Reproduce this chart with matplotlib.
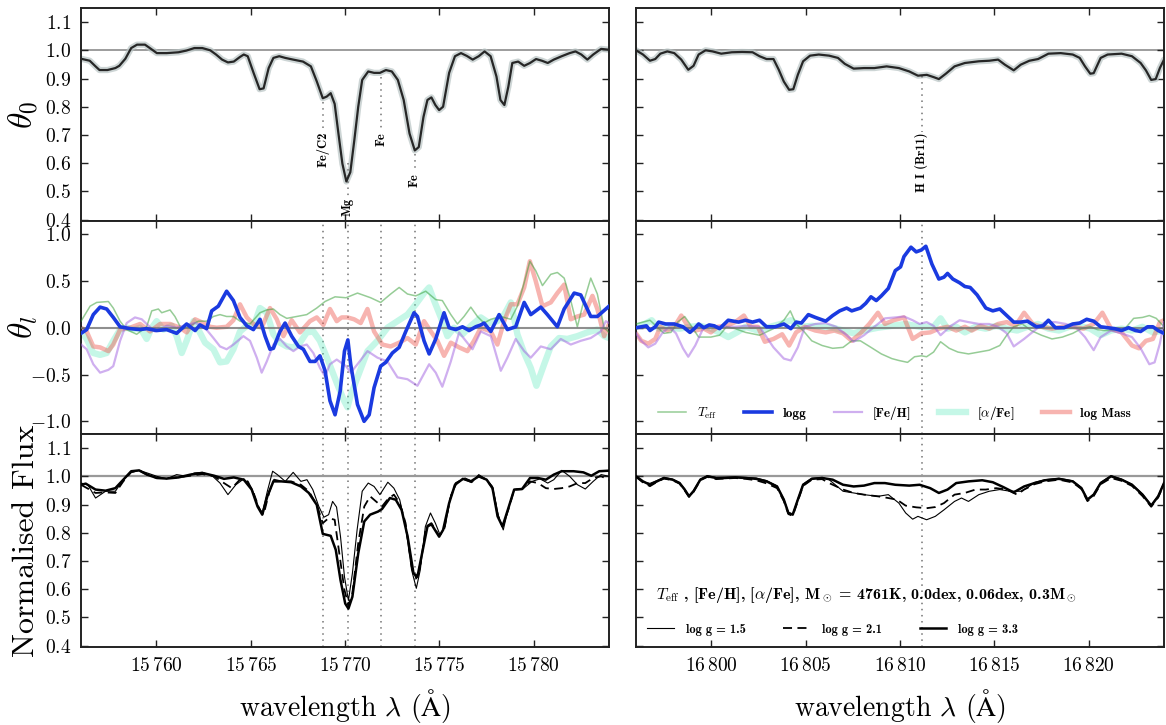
import numpy as np
import matplotlib
matplotlib.use("Agg")
import matplotlib.pyplot as plt
from matplotlib.ticker import FuncFormatter, MultipleLocator

plt.rcParams["font.family"] = ["cmr10", "DejaVu Serif"]
plt.rcParams["mathtext.fontset"] = "cm"
plt.rcParams["axes.formatter.use_mathtext"] = True

# wavelength windows (Angstrom); curve points are stored as (offset from start, value)
LEFT_START, LEFT_END = 15756.0, 15784.0
RIGHT_START, RIGHT_END = 16796.0, 16824.0

# ---------------- left window: 15756 - 15784 A ----------------
theta0_left = [
    (0.00, 0.970), (0.46, 0.963), (0.77, 0.943), (0.98, 0.930), (1.40, 0.930), (1.82, 0.937),
    (2.03, 0.945), (2.35, 0.970), (2.66, 1.008), (2.97, 1.020), (3.39, 1.020), (3.71, 1.005),
    (4.02, 0.990), (4.54, 0.990), (5.17, 0.993), (5.59, 0.999), (6.01, 1.008), (6.43, 1.008),
    (6.85, 1.000), (7.16, 0.985), (7.48, 0.967), (7.79, 0.957), (8.10, 0.960), (8.42, 0.976),
    (8.63, 0.985), (8.84, 0.979), (9.15, 0.920), (9.47, 0.862), (9.68, 0.865), (9.95, 0.937),
    (10.20, 0.973), (10.51, 0.979), (10.83, 0.973), (11.25, 0.967), (11.77, 0.960), (12.19, 0.943),
    (12.50, 0.890), (12.82, 0.830), (13.03, 0.836), (13.24, 0.848), (13.45, 0.810), (13.65, 0.705),
    (13.86, 0.598), (14.07, 0.535), (14.28, 0.568), (14.49, 0.680), (14.70, 0.800), (14.91, 0.895),
    (15.23, 0.925), (15.54, 0.920), (15.85, 0.920), (16.17, 0.930), (16.48, 0.925), (16.80, 0.895),
    (17.11, 0.824), (17.42, 0.705), (17.70, 0.645), (17.91, 0.657), (18.16, 0.764), (18.37, 0.824),
    (18.58, 0.833), (18.79, 0.806), (18.99, 0.788), (19.20, 0.800), (19.52, 0.920), (19.83, 0.979),
    (20.15, 0.990), (20.46, 0.980), (20.77, 0.967), (21.09, 0.979), (21.40, 0.996), (21.72, 0.979),
    (22.03, 0.907), (22.24, 0.824), (22.45, 0.806), (22.66, 0.871), (22.87, 0.955), (23.18, 0.960),
    (23.50, 0.945), (23.81, 0.955), (24.13, 0.969), (24.44, 0.963), (24.75, 0.955), (25.07, 0.967),
    (25.49, 0.979), (25.91, 0.990), (26.22, 0.996), (26.53, 0.985), (26.85, 0.967), (27.16, 0.985),
    (27.58, 1.005), (28.00, 1.002),
]

teff_left = [
    (0.00, 0.07), (0.48, 0.23), (0.83, 0.27), (1.45, 0.28), (1.71, 0.21), (2.07, 0.07), (2.42, -0.02),
    (2.95, -0.07), (3.48, 0.01), (3.75, 0.18), (4.10, 0.20), (4.28, 0.16), (4.72, 0.19), (4.98, 0.12),
    (5.34, -0.02), (5.78, 0.02), (6.22, 0.07), (6.66, 0.07), (7.02, 0.12), (7.37, 0.14), (7.72, 0.12),
    (8.08, 0.12), (8.43, 0.07), (8.96, 0.04), (9.49, 0.16), (9.85, 0.19), (10.20, 0.20), (10.55, 0.14),
    (10.91, 0.10), (11.44, 0.12), (11.97, 0.14), (12.50, 0.21), (12.94, 0.28), (13.47, 0.33), (14.05, 0.32),
    (14.66, 0.37), (15.36, 0.32), (15.89, 0.27), (16.42, 0.36), (16.87, 0.43), (17.31, 0.36), (17.75, 0.34),
    (18.28, 0.39), (18.81, 0.30), (19.16, 0.29), (19.61, 0.14), (19.96, 0.04), (20.31, 0.12), (20.67, 0.22),
    (21.02, 0.12), (21.37, 0.05), (21.73, 0.09), (22.26, 0.12), (22.79, 0.09), (23.14, 0.23), (23.50, 0.48),
    (23.80, 0.71), (24.11, 0.61), (24.47, 0.45), (24.91, 0.57), (25.26, 0.59), (25.62, 0.53), (25.97, 0.29),
    (26.32, 0.01), (26.59, 0.23), (27.03, 0.53), (27.38, 0.36), (27.74, 0.00), (28.00, -0.05),
]

logg_left = [
    (0.00, -0.06), (0.30, -0.02), (0.65, 0.14), (1.01, 0.22), (1.36, 0.20), (1.71, 0.11), (2.07, 0.01),
    (2.60, -0.01), (3.13, -0.02), (3.48, -0.01), (4.01, -0.03), (4.54, -0.02), (5.07, -0.06), (5.60, 0.04),
    (6.05, -0.03), (6.31, 0.03), (6.66, -0.01), (6.93, 0.18), (7.28, 0.23), (7.72, 0.39), (8.08, 0.29),
    (8.43, 0.11), (8.79, 0.02), (9.14, -0.02), (9.49, 0.09), (9.76, -0.09), (10.02, -0.23), (10.20, -0.22),
    (10.55, -0.04), (10.82, 0.05), (11.17, -0.09), (11.53, -0.20), (11.79, -0.23), (12.14, -0.36),
    (12.41, -0.36), (12.67, -0.30), (12.94, -0.46), (13.20, -0.78), (13.47, -0.93), (13.74, -0.68),
    (13.97, -0.25), (14.15, -0.13), (14.30, -0.39), (14.66, -0.82), (15.01, -1.00), (15.28, -0.93),
    (15.54, -0.64), (15.89, -0.41), (16.16, -0.37), (16.51, -0.27), (16.87, -0.21), (17.22, -0.04),
    (17.66, 0.16), (17.84, 0.12), (18.19, -0.14), (18.46, -0.28), (18.81, -0.12), (19.25, 0.16),
    (19.52, 0.00), (19.87, -0.02), (20.23, 0.01), (20.58, -0.03), (20.93, 0.01), (21.20, 0.03),
    (21.37, 0.05), (21.73, -0.04), (22.17, 0.14), (22.61, -0.02), (23.05, 0.01), (23.50, 0.27),
    (23.85, 0.14), (24.38, 0.22), (24.73, 0.14), (25.26, 0.01), (25.62, 0.20), (26.15, 0.37),
    (26.50, 0.35), (27.03, 0.12), (27.38, 0.12), (28.00, 0.23),
]

feh_left = [
    (0.00, -0.18), (0.30, -0.23), (0.65, -0.39), (1.01, -0.48), (1.45, -0.45), (1.71, -0.41), (2.07, -0.14),
    (2.42, 0.05), (2.86, 0.11), (3.22, 0.09), (3.48, 0.04), (3.92, -0.04), (4.54, 0.02), (5.07, 0.00),
    (5.60, 0.03), (6.05, 0.05), (6.49, 0.02), (7.02, -0.11), (7.37, -0.20), (7.72, -0.23), (8.08, -0.18),
    (8.61, -0.09), (8.96, -0.14), (9.32, -0.32), (9.58, -0.48), (9.85, -0.36), (10.20, -0.18), (10.55, -0.12),
    (10.91, -0.20), (11.26, -0.25), (11.61, -0.20), (11.97, -0.18), (12.32, -0.27), (12.67, -0.43),
    (12.94, -0.52), (13.20, -0.39), (13.56, -0.34), (14.05, -0.41), (14.30, -0.48), (14.66, -0.39),
    (15.19, -0.25), (15.72, -0.32), (16.25, -0.36), (16.78, -0.53), (17.31, -0.55), (17.84, -0.62),
    (18.46, -0.39), (18.81, -0.48), (19.16, -0.63), (19.61, -0.36), (20.05, -0.05), (20.40, -0.14),
    (20.76, -0.23), (21.20, -0.04), (21.73, -0.09), (22.26, -0.46), (22.61, -0.32), (23.05, -0.12),
    (23.50, -0.25), (23.85, -0.32), (24.38, -0.20), (24.91, -0.23), (25.44, -0.12), (25.97, -0.18),
    (26.50, -0.14), (27.03, -0.11), (27.56, -0.04), (27.83, 0.07), (28.00, 0.05),
]

alpha_left = [
    (0.00, -0.04), (0.30, -0.12), (0.65, -0.27), (1.01, -0.29), (1.36, -0.27), (1.71, -0.14), (2.07, -0.02),
    (2.42, 0.00), (2.78, -0.02), (3.13, 0.00), (3.48, -0.12), (3.75, 0.00), (4.01, 0.07), (4.37, -0.02),
    (4.81, 0.02), (5.07, -0.09), (5.34, -0.27), (5.60, -0.14), (5.96, 0.07), (6.22, -0.02), (6.58, -0.16),
    (7.02, -0.23), (7.37, -0.37), (7.72, -0.36), (8.08, -0.23), (8.43, -0.04), (8.79, 0.02), (9.14, 0.01),
    (9.49, 0.21), (9.85, 0.16), (10.20, -0.07), (10.55, -0.16), (10.91, -0.20), (11.26, -0.21),
    (11.61, -0.16), (11.97, -0.05), (12.32, -0.04), (12.67, -0.14), (13.12, -0.36), (13.56, -0.59),
    (13.95, -0.78), (14.13, -0.85), (14.30, -0.72), (14.66, -0.53), (15.19, -0.25), (15.72, -0.14),
    (16.25, 0.00), (16.78, 0.07), (17.31, 0.14), (17.75, 0.25), (18.19, 0.37), (18.46, 0.43), (18.72, 0.29),
    (19.08, 0.11), (19.43, -0.09), (19.78, 0.00), (20.23, -0.07), (20.67, 0.02), (21.20, 0.11),
    (21.64, 0.05), (22.08, 0.07), (22.44, 0.14), (22.79, 0.27), (23.14, -0.07), (23.50, -0.27),
    (23.85, -0.43), (24.15, -0.62), (24.56, -0.39), (24.91, -0.20), (25.35, -0.11), (25.79, -0.12),
    (26.32, -0.09), (26.85, -0.05), (27.38, -0.02), (27.74, -0.09), (28.00, -0.11),
]

mass_left = [
    (0.00, 0.00), (0.30, -0.04), (0.65, -0.20), (1.01, -0.21), (1.45, -0.25), (1.71, -0.18), (2.07, -0.02),
    (2.60, 0.00), (3.13, 0.04), (3.66, -0.04), (4.19, 0.04), (4.72, 0.04), (5.25, 0.00), (5.60, -0.05),
    (6.05, 0.09), (6.49, 0.05), (6.84, 0.01), (7.19, 0.00), (7.72, 0.01), (8.08, 0.08), (8.43, 0.25),
    (8.79, 0.11), (9.14, 0.04), (9.58, 0.00), (10.02, 0.21), (10.38, 0.09), (10.73, -0.09), (11.17, 0.08),
    (11.61, -0.05), (12.14, 0.07), (12.50, 0.11), (12.85, 0.03), (13.20, 0.20), (13.56, 0.07),
    (13.82, 0.11), (14.13, 0.11), (14.48, 0.09), (14.83, 0.05), (15.19, 0.20), (15.54, -0.04),
    (15.98, -0.18), (16.42, -0.20), (16.87, -0.16), (17.31, -0.11), (17.75, -0.18), (18.19, 0.07),
    (18.55, -0.04), (18.90, -0.14), (19.25, -0.30), (19.61, -0.16), (20.05, -0.21), (20.49, -0.25),
    (20.84, -0.14), (21.20, 0.00), (21.73, -0.04), (22.08, -0.18), (22.44, 0.07), (22.79, 0.25),
    (23.14, 0.25), (23.50, 0.43), (23.80, 0.71), (24.11, 0.50), (24.47, 0.23), (24.91, 0.27),
    (25.26, 0.37), (25.62, 0.46), (25.97, 0.09), (26.32, 0.12), (26.68, 0.14), (27.12, 0.34),
    (27.38, 0.20), (27.74, -0.09), (28.00, 0.04),
]

flux_g15_left = [
    (0.00, 0.976), (0.36, 0.970), (0.77, 0.923), (1.30, 0.947), (1.82, 0.947), (2.24, 0.988), (2.66, 1.014),
    (3.08, 1.021), (3.50, 1.012), (4.02, 1.000), (4.54, 0.991), (5.07, 1.006), (5.59, 1.000), (6.01, 1.012),
    (6.43, 1.014), (6.95, 1.002), (7.37, 0.976), (7.79, 0.935), (8.21, 0.970), (8.63, 0.991), (9.05, 0.958),
    (9.36, 0.899), (9.61, 0.870), (9.88, 0.947), (10.16, 1.018), (10.41, 1.006), (10.83, 0.982),
    (11.25, 1.014), (11.66, 0.982), (11.98, 0.988), (12.29, 0.953), (12.61, 0.893), (12.88, 0.855),
    (13.13, 0.864), (13.34, 0.911), (13.55, 0.891), (13.76, 0.786), (13.97, 0.644), (14.18, 0.560),
    (14.39, 0.656), (14.64, 0.810), (14.91, 0.947), (15.23, 0.976), (15.54, 0.964), (15.85, 0.935),
    (16.27, 0.979), (16.59, 0.958), (16.90, 0.917), (17.21, 0.822), (17.53, 0.668), (17.78, 0.603),
    (17.99, 0.668), (18.26, 0.822), (18.53, 0.870), (18.79, 0.834), (19.04, 0.792), (19.31, 0.822),
    (19.62, 0.935), (19.94, 0.976), (20.36, 0.994), (20.77, 0.982), (21.09, 1.006), (21.51, 0.988),
    (21.82, 0.964), (22.14, 0.858), (22.39, 0.810), (22.66, 0.887), (22.97, 0.953), (23.39, 0.953),
    (23.92, 0.982), (24.34, 0.991), (24.75, 0.976), (25.07, 0.988), (25.49, 1.021), (25.91, 1.000),
    (26.33, 0.970), (26.74, 0.955), (27.16, 0.982), (27.58, 1.006), (28.00, 1.000),
]

flux_g21_left = [
    (0.00, 0.970), (0.77, 0.941), (1.30, 0.943), (1.82, 0.941), (2.24, 0.982), (2.66, 1.015), (3.08, 1.021),
    (3.50, 1.006), (4.02, 0.994), (4.54, 0.994), (5.17, 0.996), (5.80, 1.002), (6.43, 1.008), (7.06, 1.000),
    (7.58, 0.976), (8.00, 0.958), (8.42, 0.988), (8.84, 0.982), (9.15, 0.941), (9.47, 0.882), (9.68, 0.864),
    (9.99, 0.947), (10.24, 0.988), (10.62, 0.982), (11.14, 0.982), (11.66, 0.970), (12.08, 0.947),
    (12.50, 0.899), (12.82, 0.834), (13.13, 0.852), (13.45, 0.846), (13.72, 0.715), (13.97, 0.597),
    (14.18, 0.543), (14.39, 0.585), (14.70, 0.763), (15.02, 0.893), (15.33, 0.929), (15.64, 0.911),
    (15.96, 0.893), (16.27, 0.919), (16.59, 0.935), (16.90, 0.905), (17.21, 0.834), (17.53, 0.680),
    (17.78, 0.638), (18.01, 0.692), (18.30, 0.822), (18.58, 0.834), (18.99, 0.789), (19.25, 0.810),
    (19.56, 0.917), (19.87, 0.976), (20.29, 0.991), (20.71, 0.979), (21.09, 1.000), (21.51, 0.988),
    (21.82, 0.958), (22.09, 0.864), (22.35, 0.822), (22.66, 0.882), (22.97, 0.953), (23.39, 0.955),
    (23.81, 0.982), (24.23, 0.976), (24.65, 0.958), (25.07, 0.955), (25.49, 0.958), (25.91, 0.964),
    (26.33, 0.976), (26.74, 0.976), (27.16, 0.994), (27.58, 1.000), (28.00, 0.988),
]

flux_g33_left = [
    (0.00, 0.970), (0.25, 0.974), (0.77, 0.953), (1.30, 0.949), (1.82, 0.958), (2.24, 0.988), (2.66, 1.018),
    (3.08, 1.021), (3.50, 1.006), (4.02, 0.994), (4.54, 0.992), (5.17, 0.996), (5.80, 1.006), (6.43, 1.012),
    (7.06, 1.002), (7.58, 0.991), (8.10, 0.996), (8.63, 0.988), (9.05, 0.953), (9.36, 0.893), (9.61, 0.864),
    (9.88, 0.929), (10.20, 0.982), (10.62, 0.982), (11.14, 0.979), (11.66, 0.964), (12.08, 0.941),
    (12.50, 0.899), (12.82, 0.796), (13.24, 0.789), (13.51, 0.739), (13.76, 0.632), (14.01, 0.549),
    (14.18, 0.531), (14.39, 0.573), (14.70, 0.727), (15.02, 0.840), (15.33, 0.864), (15.75, 0.875),
    (15.96, 0.884), (16.38, 0.923), (16.69, 0.917), (17.00, 0.881), (17.32, 0.786), (17.63, 0.656),
    (17.84, 0.644), (18.05, 0.715), (18.37, 0.822), (18.58, 0.830), (18.99, 0.786), (19.20, 0.810),
    (19.52, 0.905), (19.83, 0.970), (20.25, 0.991), (20.67, 0.982), (21.09, 1.000), (21.51, 0.988),
    (21.82, 0.958), (22.09, 0.858), (22.35, 0.822), (22.66, 0.887), (22.97, 0.953), (23.39, 0.955),
    (23.81, 0.994), (24.23, 0.994), (24.65, 0.988), (25.07, 1.006), (25.49, 1.018), (26.12, 1.018),
    (26.64, 1.014), (27.06, 1.002), (27.48, 1.018), (28.00, 1.020),
]

# ---------------- right window: 16796 - 16824 A ----------------
theta0_right = [
    (0.00, 1.000), (0.37, 0.985), (0.74, 0.963), (1.02, 0.969), (1.29, 0.988), (1.66, 0.996), (2.03, 0.990),
    (2.40, 0.967), (2.77, 0.931), (3.05, 0.945), (3.32, 0.985), (3.69, 1.000), (4.06, 0.996), (4.52, 0.988),
    (5.08, 0.993), (5.63, 0.994), (6.18, 0.993), (6.55, 0.979), (6.92, 0.969), (7.29, 0.969), (7.57, 0.931),
    (7.84, 0.889), (8.12, 0.860), (8.34, 0.862), (8.58, 0.913), (8.86, 0.961), (9.23, 0.981), (9.69, 0.985),
    (10.24, 0.981), (10.71, 0.973), (11.07, 0.952), (11.54, 0.935), (12.09, 0.937), (12.64, 0.937),
    (13.29, 0.943), (13.94, 0.937), (14.49, 0.925), (14.95, 0.910), (15.42, 0.913), (15.78, 0.905),
    (16.06, 0.898), (16.43, 0.917), (16.89, 0.943), (17.44, 0.955), (18.18, 0.961), (18.73, 0.963),
    (19.20, 0.967), (19.56, 0.949), (20.03, 0.929), (20.40, 0.949), (20.86, 0.963), (21.32, 0.969),
    (21.87, 0.988), (22.52, 0.990), (23.16, 0.985), (23.53, 0.973), (23.81, 0.943), (24.09, 0.917),
    (24.27, 0.919), (24.64, 0.973), (25.01, 0.985), (25.75, 0.988), (26.30, 0.979), (26.76, 0.955),
    (27.04, 0.929), (27.32, 0.895), (27.56, 0.898), (27.78, 0.937), (28.00, 0.967),
]

teff_right = [
    (0.00, 0.04), (0.37, 0.06), (0.74, 0.08), (1.11, 0.01), (1.48, -0.06), (1.85, -0.05), (2.21, 0.06),
    (2.58, 0.12), (2.86, 0.04), (3.32, -0.10), (3.97, -0.10), (4.43, -0.08), (4.80, 0.01), (5.26, -0.01),
    (5.81, -0.05), (6.55, -0.08), (7.29, -0.01), (7.84, 0.08), (8.18, 0.18), (8.49, 0.04), (8.86, -0.03),
    (9.32, -0.14), (9.87, -0.19), (10.43, -0.22), (10.98, -0.21), (11.44, -0.14), (11.90, -0.14),
    (12.46, -0.21), (13.01, -0.28), (13.57, -0.33), (13.94, -0.35), (14.40, -0.37), (14.77, -0.31),
    (15.13, -0.30), (15.41, -0.31), (15.78, -0.26), (16.15, -0.15), (16.61, -0.22), (17.07, -0.26),
    (17.63, -0.28), (18.18, -0.26), (18.73, -0.24), (19.29, -0.19), (19.66, -0.08), (20.03, 0.01),
    (20.49, 0.04), (20.95, -0.03), (21.50, -0.08), (22.06, -0.12), (22.61, -0.10), (23.16, -0.06),
    (23.62, -0.01), (24.09, 0.01), (24.46, -0.02), (24.82, -0.03), (25.38, -0.03), (25.93, -0.01),
    (26.39, 0.10), (26.86, 0.11), (27.22, 0.13), (27.59, 0.10), (28.00, 0.01),
]

logg_right = [
    (0.00, 0.00), (0.28, 0.01), (0.55, 0.02), (0.74, -0.03), (1.02, 0.01), (1.20, 0.06), (1.57, 0.04),
    (2.03, 0.04), (2.49, 0.01), (2.86, -0.05), (3.14, 0.00), (3.32, 0.04), (3.60, 0.00), (3.88, 0.03),
    (4.15, 0.02), (4.43, -0.01), (4.89, 0.08), (5.44, 0.06), (5.81, 0.08), (6.18, 0.06), (6.55, 0.08),
    (6.92, 0.01), (7.38, 0.01), (7.84, 0.04), (8.21, -0.01), (8.49, 0.06), (8.77, 0.05), (9.14, 0.14),
    (9.51, 0.11), (10.06, 0.07), (10.43, 0.13), (10.80, 0.18), (11.17, 0.21), (11.44, 0.18), (11.90, 0.21),
    (12.18, 0.26), (12.46, 0.33), (12.74, 0.29), (13.01, 0.34), (13.38, 0.42), (13.75, 0.61), (14.03, 0.65),
    (14.21, 0.76), (14.58, 0.86), (14.86, 0.81), (15.13, 0.83), (15.37, 0.87), (15.69, 0.68), (16.06, 0.52),
    (16.33, 0.54), (16.52, 0.58), (16.80, 0.52), (17.16, 0.48), (17.44, 0.44), (17.72, 0.43), (18.09, 0.35),
    (18.55, 0.21), (18.92, 0.18), (19.29, 0.20), (19.66, 0.13), (20.03, 0.06), (20.40, 0.06), (20.76, 0.07),
    (21.23, 0.01), (21.59, 0.02), (21.87, 0.08), (22.24, 0.00), (22.70, 0.00), (23.16, 0.04), (23.53, 0.05),
    (23.90, 0.09), (24.27, 0.07), (24.64, 0.01), (25.01, 0.00), (25.38, -0.01), (25.75, -0.03), (26.12, 0.00),
    (26.49, -0.03), (26.76, -0.04), (27.13, 0.01), (27.41, 0.01), (27.69, -0.03), (28.00, -0.06),
]

feh_right = [
    (0.00, -0.06), (0.28, -0.14), (0.65, -0.21), (1.02, -0.17), (1.38, -0.06), (1.75, 0.01), (2.12, -0.06),
    (2.49, -0.22), (2.77, -0.31), (3.14, -0.19), (3.60, 0.01), (4.15, 0.02), (4.71, 0.01), (5.26, 0.01),
    (5.81, 0.02), (6.55, 0.01), (7.29, -0.21), (7.84, -0.33), (8.21, -0.35), (8.58, -0.21), (8.95, 0.01),
    (9.51, 0.04), (10.06, 0.05), (10.61, 0.01), (11.17, -0.08), (11.54, -0.15), (12.09, -0.08), (12.64, 0.01),
    (13.20, 0.10), (13.75, 0.11), (14.21, 0.12), (14.67, 0.08), (15.04, 0.04), (15.41, 0.06), (15.78, 0.02),
    (16.15, -0.08), (16.70, 0.02), (17.16, 0.08), (17.63, 0.06), (18.18, 0.04), (18.73, 0.04), (19.20, 0.01),
    (19.66, -0.06), (20.03, -0.20), (20.58, -0.12), (21.13, -0.03), (21.69, 0.06), (22.24, 0.06),
    (22.79, 0.04), (23.35, 0.00), (23.81, -0.10), (24.27, -0.24), (24.64, -0.10), (25.19, -0.03),
    (25.75, -0.06), (26.30, -0.10), (26.76, -0.22), (27.22, -0.39), (27.50, -0.37), (27.78, -0.17),
    (28.00, 0.06),
]

alpha_right = [
    (0.00, 0.01), (0.46, 0.04), (0.83, 0.08), (1.20, -0.01), (1.75, 0.00), (2.31, -0.01), (2.86, 0.01),
    (3.41, 0.02), (3.97, -0.01), (4.52, -0.06), (4.89, -0.10), (5.35, -0.05), (5.81, 0.01), (6.46, -0.03),
    (7.11, 0.01), (7.66, 0.04), (8.21, 0.08), (8.77, 0.01), (9.32, 0.02), (9.87, 0.01), (10.43, 0.00),
    (10.98, -0.03), (11.54, -0.06), (12.09, -0.03), (12.83, 0.00), (13.57, 0.02), (14.30, 0.04),
    (15.04, 0.01), (15.78, 0.01), (16.15, 0.10), (16.52, -0.01), (16.98, 0.01), (17.44, -0.05),
    (18.00, 0.01), (18.55, -0.01), (19.10, 0.02), (19.66, -0.01), (20.21, -0.03), (20.76, 0.01),
    (21.32, 0.04), (21.87, -0.01), (22.43, -0.03), (22.98, 0.01), (23.53, 0.02), (24.09, -0.01),
    (24.64, -0.08), (25.19, -0.03), (25.75, -0.01), (26.30, -0.03), (26.86, 0.01), (27.41, -0.05),
    (28.00, -0.03),
]

mass_right = [
    (0.00, -0.06), (0.28, -0.14), (0.65, -0.17), (1.02, -0.12), (1.29, 0.01), (1.66, -0.03), (2.03, 0.01),
    (2.40, 0.13), (2.77, 0.01), (3.14, -0.03), (3.60, -0.01), (3.97, -0.05), (4.34, 0.01), (4.80, 0.02),
    (5.26, 0.06), (5.72, 0.13), (6.09, 0.01), (6.46, 0.01), (6.83, -0.15), (7.29, -0.12), (7.75, -0.07),
    (8.12, -0.19), (8.49, -0.05), (8.95, 0.01), (9.51, -0.03), (10.06, -0.05), (10.52, -0.03),
    (10.98, -0.06), (11.44, -0.14), (11.90, -0.06), (12.37, 0.04), (12.83, 0.16), (13.20, 0.04),
    (13.66, 0.08), (14.21, 0.11), (14.67, -0.12), (15.13, -0.06), (15.60, -0.05), (16.06, -0.01),
    (16.52, 0.01), (16.98, -0.03), (17.44, 0.01), (17.81, -0.03), (18.27, 0.02), (18.73, -0.01),
    (19.20, 0.04), (19.66, 0.06), (20.12, 0.02), (20.58, 0.16), (21.04, 0.04), (21.50, 0.01),
    (22.06, -0.01), (22.61, 0.01), (23.16, 0.01), (23.72, -0.01), (24.27, 0.04), (24.73, 0.16),
    (25.19, -0.01), (25.75, -0.05), (26.30, -0.19), (26.67, -0.22), (27.04, -0.14), (27.41, -0.12),
    (27.78, 0.06), (28.00, 0.08),
]

flux_g15_right = [
    (0.00, 1.000), (0.37, 0.980), (0.74, 0.975), (1.11, 0.985), (1.48, 0.996), (1.94, 0.990), (2.31, 0.978),
    (2.58, 0.955), (2.81, 0.931), (3.05, 0.950), (3.41, 0.990), (3.78, 1.002), (4.25, 0.996), (4.71, 0.997),
    (5.26, 0.998), (5.81, 0.996), (6.37, 0.994), (6.92, 0.985), (7.48, 0.966), (7.84, 0.919), (8.08, 0.872),
    (8.31, 0.866), (8.58, 0.919), (8.86, 0.972), (9.32, 0.993), (9.87, 0.996), (10.24, 0.988), (10.98, 0.947),
    (11.54, 0.941), (12.09, 0.935), (12.83, 0.929), (13.38, 0.935), (13.94, 0.905), (14.30, 0.870),
    (14.67, 0.848), (14.95, 0.858), (15.41, 0.846), (15.87, 0.858), (16.33, 0.881), (16.89, 0.911),
    (17.26, 0.923), (17.63, 0.911), (18.18, 0.935), (18.73, 0.947), (19.29, 0.953), (19.84, 0.947),
    (20.40, 0.947), (20.76, 0.960), (21.13, 0.978), (21.69, 0.988), (22.43, 0.993), (23.16, 0.984),
    (23.62, 0.960), (23.94, 0.919), (24.27, 0.937), (24.64, 0.978), (25.19, 1.002), (25.75, 0.990),
    (26.30, 0.972), (26.86, 0.937), (27.32, 0.898), (27.69, 0.931), (28.00, 0.978),
]

flux_g21_right = [
    (0.00, 0.998), (0.37, 0.978), (0.74, 0.965), (1.11, 0.980), (1.48, 0.992), (1.94, 0.986), (2.31, 0.974),
    (2.58, 0.950), (2.81, 0.927), (3.05, 0.945), (3.41, 0.986), (3.78, 0.998), (4.25, 0.990), (4.71, 0.992),
    (5.26, 0.994), (5.81, 0.991), (6.37, 0.986), (6.92, 0.975), (7.48, 0.958), (7.84, 0.912), (8.08, 0.866),
    (8.31, 0.860), (8.58, 0.912), (8.86, 0.966), (9.32, 0.988), (9.87, 0.990), (10.24, 0.976), (10.98, 0.953),
    (11.54, 0.941), (12.09, 0.935), (12.83, 0.929), (13.38, 0.923), (13.84, 0.917), (14.30, 0.896),
    (14.86, 0.890), (15.41, 0.887), (15.87, 0.891), (16.33, 0.905), (16.89, 0.935), (17.44, 0.941),
    (18.00, 0.953), (18.55, 0.953), (19.10, 0.958), (19.66, 0.953), (20.21, 0.935), (20.58, 0.953),
    (21.13, 0.972), (21.69, 0.982), (22.43, 0.988), (23.16, 0.978), (23.62, 0.955), (23.94, 0.912),
    (24.27, 0.930), (24.64, 0.972), (25.19, 0.994), (25.75, 0.984), (26.30, 0.966), (26.86, 0.930),
    (27.32, 0.892), (27.69, 0.925), (28.00, 0.972),
]

flux_g33_right = [
    (0.00, 1.000), (0.37, 0.982), (0.74, 0.970), (1.11, 0.982), (1.48, 0.994), (1.94, 0.988), (2.31, 0.976),
    (2.58, 0.953), (2.81, 0.929), (3.05, 0.947), (3.41, 0.988), (3.78, 1.000), (4.25, 0.994), (4.71, 0.994),
    (5.26, 0.996), (5.81, 0.994), (6.37, 0.991), (6.92, 0.982), (7.48, 0.964), (7.84, 0.917), (8.08, 0.870),
    (8.31, 0.864), (8.58, 0.917), (8.86, 0.970), (9.32, 0.991), (9.87, 0.994), (10.43, 0.988), (10.98, 0.970),
    (11.54, 0.964), (12.09, 0.967), (12.64, 0.976), (13.20, 0.976), (13.75, 0.970), (14.49, 0.967),
    (15.04, 0.970), (15.60, 0.958), (16.06, 0.941), (16.52, 0.953), (16.98, 0.976), (17.63, 0.982),
    (18.36, 0.986), (18.92, 0.979), (19.47, 0.962), (20.03, 0.943), (20.58, 0.964), (21.13, 0.976),
    (21.69, 0.986), (22.43, 0.991), (23.16, 0.982), (23.62, 0.958), (23.94, 0.917), (24.27, 0.935),
    (24.64, 0.976), (25.19, 1.000), (25.75, 0.988), (26.30, 0.970), (26.86, 0.935), (27.32, 0.896),
    (27.69, 0.929), (28.00, 0.976),
]

# marked lines: name, wavelength
left_line_names = ["Fe/C2", "Mg", "Fe", "Fe"]
left_line_wl = [15768.82, 15770.15, 15771.92, 15773.70]
right_line_names = ["H I (Br11)"]
right_line_wl = [16811.15]
# label placement in the theta_0 panel (dotted segment top, label top)
left_seg_top = [0.815, 0.60, 0.905, 0.633]
left_label_top = [0.712, 0.478, 0.708, 0.565]
right_seg_top = [0.908]
right_label_top = [0.707]

param_labels = [r"$T_{\rm eff}$", "logg", "[Fe/H]", r"[$\alpha$/Fe]", "log Mass"]
logg_labels = ["log g = 1.5", "log g = 2.1", "log g = 3.3"]
star_text = (r"$T_{\rm eff}$ , [Fe/H], [$\alpha$/Fe], M$_\odot$ = 4761K, 0.0dex, "
             r"0.06dex, 0.3M$_\odot$")
xlabel_text = r"wavelength $\lambda$ ($\mathrm{\AA}$)"

BOLD = ["cmb10", "DejaVu Serif"]


def xy(points, start):
    arr = np.array(points, dtype=float)
    return start + arr[:, 0], arr[:, 1]


def kfmt(x, pos):
    v = int(round(x))
    return f"{v // 1000}$\\,${v % 1000:03d}"


fig, axes = plt.subplots(3, 2, figsize=(11.66, 7.25), dpi=100, sharex="col")
fig.subplots_adjust(left=0.0695, right=0.9983, top=0.989, bottom=0.1076,
                    hspace=0.0, wspace=0.0511)

columns = [
    dict(start=LEFT_START, end=LEFT_END, theta0=theta0_left,
         params=[teff_left, logg_left, feh_left, alpha_left, mass_left],
         flux=[flux_g15_left, flux_g21_left, flux_g33_left],
         names=left_line_names, wl=left_line_wl,
         seg_top=left_seg_top, label_top=left_label_top),
    dict(start=RIGHT_START, end=RIGHT_END, theta0=theta0_right,
         params=[teff_right, logg_right, feh_right, alpha_right, mass_right],
         flux=[flux_g15_right, flux_g21_right, flux_g33_right],
         names=right_line_names, wl=right_line_wl,
         seg_top=right_seg_top, label_top=right_label_top),
]

param_styles = [
    dict(color="#2e9a2e", alpha=0.5, lw=1.1, zorder=3),
    dict(color="#1a3ae0", alpha=1.0, lw=2.6, zorder=6),
    dict(color="#a060e0", alpha=0.5, lw=1.6, zorder=4),
    dict(color="#50e8b8", alpha=0.33, lw=4.6, zorder=1),
    dict(color="#ee5a50", alpha=0.45, lw=3.2, zorder=2),
]
flux_styles = [
    dict(color="black", lw=0.8, ls="-"),
    dict(color="black", lw=1.3, ls=(0, (5, 3))),
    dict(color="black", lw=1.8, ls="-"),
]
dot_kw = dict(color="0.45", lw=1.1, ls=(0, (1, 3)))

for col, c in enumerate(columns):
    ax_t, ax_m, ax_b = axes[:, col]

    # theta_0
    x, y = xy(c["theta0"], c["start"])
    ax_t.axhline(1.0, color="0.55", lw=1.2, zorder=1)
    ax_t.plot(x, y, color="#b8c4c4", lw=4.5, alpha=0.7, zorder=2, solid_capstyle="round")
    ax_t.plot(x, y, color="#262626", lw=1.6, zorder=3)
    for name, wl, s_top, l_top in zip(c["names"], c["wl"], c["seg_top"], c["label_top"]):
        ax_t.plot([wl, wl], [s_top, l_top + 0.005], **dot_kw)
        ax_t.text(wl, l_top, name, rotation=90, ha="center", va="top",
                  fontsize=9, family=BOLD)
    ax_t.set_ylim(0.395, 1.15)
    ax_t.yaxis.set_major_locator(MultipleLocator(0.1))

    # theta_l
    ax_m.axhline(0.0, color="0.45", lw=1.5, zorder=5, alpha=0.8)
    for pts, st, lab in zip(c["params"], param_styles, param_labels):
        x, y = xy(pts, c["start"])
        ax_m.plot(x, y, label=lab, **st)
    ax_m.set_ylim(-1.135, 1.14)
    ax_m.yaxis.set_major_locator(MultipleLocator(0.5))

    # normalised flux
    ax_b.axhline(1.0, color="0.6", lw=1.6, zorder=1)
    for pts, st, lab in zip(c["flux"], flux_styles, logg_labels):
        x, y = xy(pts, c["start"])
        ax_b.plot(x, y, label=lab, zorder=3, **st)
    ax_b.set_ylim(0.395, 1.15)
    ax_b.yaxis.set_major_locator(MultipleLocator(0.1))

    for wl in c["wl"]:
        ax_m.axvline(wl, zorder=0, **dot_kw)
        ax_b.axvline(wl, zorder=0, **dot_kw)

    for ax in (ax_t, ax_m, ax_b):
        ax.set_xlim(c["start"], c["end"])
        ax.tick_params(axis="both", which="both", direction="in", top=True, right=True,
                       length=5, width=1.0, labelsize=14, pad=7, color="#222222")
        for sp in ax.spines.values():
            sp.set_linewidth(1.4)
            sp.set_color("#222222")
        if col == 1:
            ax.tick_params(labelleft=False)
    ax_b.xaxis.set_major_locator(MultipleLocator(5))
    ax_b.xaxis.set_major_formatter(FuncFormatter(kfmt))
    ax_b.set_xlabel(xlabel_text, fontsize=20, labelpad=9)

axes[0, 0].set_ylabel(r"$\theta_0$", fontsize=24)
axes[1, 0].set_ylabel(r"$\theta_l$", fontsize=24)
axes[2, 0].set_ylabel("Normalised Flux", fontsize=23)
for ax in axes[:, 0]:
    ax.yaxis.set_label_coords(-0.078, 0.5)

axes[1, 1].legend(loc="lower center", bbox_to_anchor=(0.49, 0.0), ncol=5, frameon=False,
                  prop=dict(family=BOLD, size=9.5), handlelength=2.1, columnspacing=2.1,
                  handletextpad=0.8)
axes[2, 1].text(0.038, 0.245, star_text, transform=axes[2, 1].transAxes,
                ha="left", va="center", fontsize=11.5, family=BOLD)
axes[2, 1].legend(loc="lower left", bbox_to_anchor=(0.0, 0.0), ncol=3, frameon=False,
                  prop=dict(family=BOLD, size=9), handlelength=2.1, columnspacing=3.0,
                  handletextpad=1.0)

fig.savefig("out.png", dpi=100)
